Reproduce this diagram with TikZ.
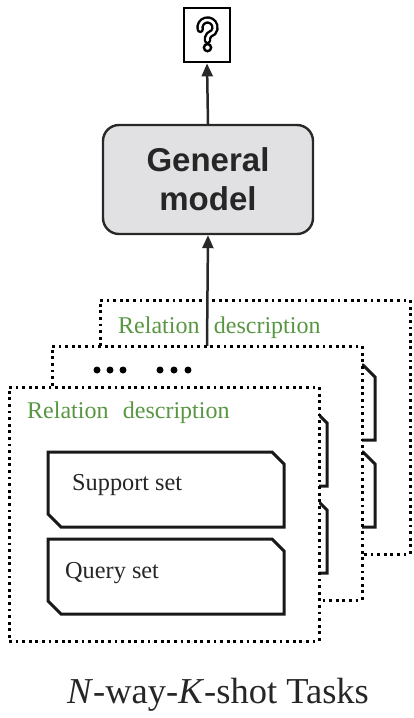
\documentclass[tikz,border=0pt]{standalone}
\usepackage{fontspec}
\setmainfont{Liberation Serif}
\setsansfont{Liberation Sans}
\usetikzlibrary{arrows.meta}
\definecolor{relgreen}{RGB}{88,150,66}
\definecolor{ink}{RGB}{40,40,40}
\definecolor{modelgray}{RGB}{225,224,227}

% chamfered set card; #1,#2 = top-left corner
\newcommand{\setcard}[2]{%
  \draw[card] (#1,#2) -- ++(224,0) -- ++(12,12) -- ++(0,63) -- ++(-223,0) -- ++(-13,-13) -- cycle;}
% a task frame: dotted sheet with its support and query cards
\newcommand{\taskframe}[3]{%
  \node[taskbox, anchor=north west] (#3) at (#1,#2) {};
  \setcard{#1+39}{#2+65}
  \setcard{#1+39}{#2+152}}

\begin{document}
\begin{tikzpicture}[x=1pt,y=-1pt,
  taskbox/.style={draw=black, fill=white, line width=3pt,
    dash pattern=on 2.8pt off 3.8pt, minimum width=310pt, minimum height=254pt,
    inner sep=0pt, outer sep=0pt},
  card/.style={draw=black!90, fill=white, line width=3pt, line join=miter},
  reltext/.style={text=relgreen, font=\fontsize{24}{28}\selectfont, anchor=base west, inner sep=0pt},
  settext/.style={text=black!85, font=\fontsize{24.3}{28}\selectfont, anchor=base west, inner sep=0pt},
  flow/.style={draw=ink, line width=2.5pt, -{Triangle[length=13pt,width=11pt]}},
  dot/.style={circle, fill=black, inner sep=0pt, minimum size=7pt}]
\useasboundingbox (0,0) rectangle (413,718);

% question mark output box
\node[draw=black, line width=2.8pt, minimum width=46pt, minimum height=54pt, inner sep=0pt, outer sep=1.4pt] (q) at (207,35) {};
\draw[line width=7.4pt, line cap=round, black]
  (207.5,27.5) ++(195:7.5pt) arc[start angle=195, end angle=-40, radius=7.5pt]
  .. controls (209.5,34.5) and (207.5,35.5) .. (207.5,38) -- (207.5,40.5);
\draw[line width=2.6pt, line cap=round, white]
  (207.5,27.5) ++(195:7.5pt) arc[start angle=195, end angle=-40, radius=7.5pt]
  .. controls (209.5,34.5) and (207.5,35.5) .. (207.5,38) -- (207.5,40.5);
\draw[line width=2.4pt, black, fill=white] (207.5,47.6) circle[radius=3.6pt];

% general model
\node[draw=ink, fill=modelgray, line width=2.4pt, rounded corners=16pt,
  minimum width=210pt, minimum height=109pt, align=center,
  font=\sffamily\bfseries\fontsize{33}{39}\selectfont, text=black!85] (model) at (208,179.5) {General\\model};

\draw[flow] (model.north) -- (q.south);

% stacked task frames, back to front
\taskframe{100}{300}{back}
\node[reltext] (relback) at (118,333) {Relation\hspace{0.35em} description};

\draw[flow] (207,346) coordinate (midtop) -- (model.south);

\taskframe{52}{346}{mid}
\foreach \x [count=\i] in {97,110,123,160,174,188}
  \node[dot] (ell\i) at (\x,370) {};

\taskframe{9}{387}{front}
\node[reltext] (relfront) at (27,418) {Relation\hspace{0.35em} description};
\node[settext] (support) at (72,490) {Support set};
\node[settext] (query) at (65,578) {Query set};

% caption
\node[font=\fontsize{36.5}{42}\selectfont, text=black!85, anchor=base, inner sep=0pt] (title) at (218,703) {\textit{N}-way-\textit{K}-shot Tasks};
\end{tikzpicture}
\end{document}
